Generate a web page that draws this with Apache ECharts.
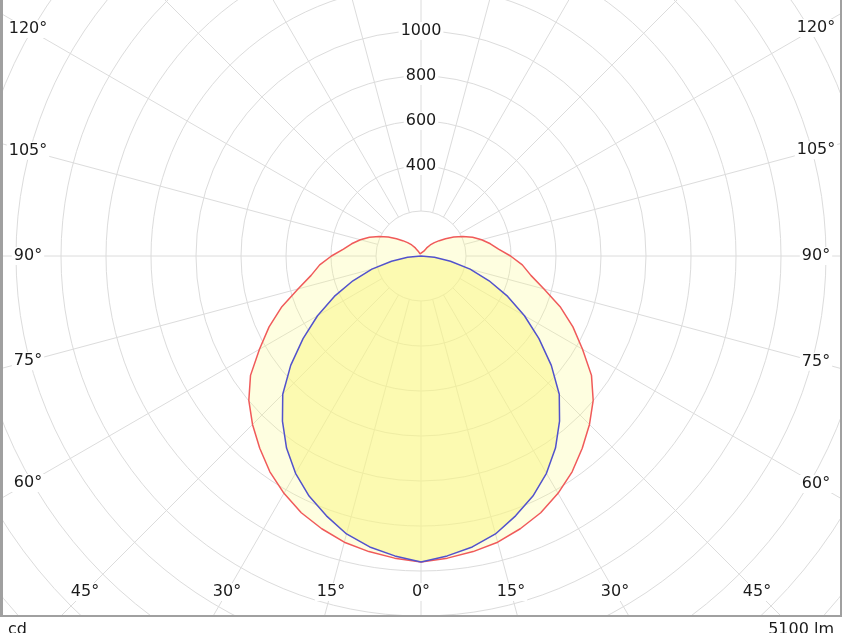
<!DOCTYPE html>
<html><head><meta charset="utf-8">
<script src="https://cdn.jsdelivr.net/npm/echarts@6/dist/echarts.min.js"></script>
<style>html,body{margin:0;padding:0;background:#fff}#c{width:844px;height:633px}</style>
</head><body><div id="c"></div>
<script>
// ---- data ----
const redAngles = [0,5,10,15,20,25,30,35,40,45,50,55,60,65,70,75,80,85,90,95,100,105,110,115,120,125,130,135,140,145,150,155,160,165,170,175,180];
const redValues = [1360,1348,1334,1317,1290,1259,1218,1171,1115,1059,999,925,829,745,658,566,496,452,398,346,313,279,244,205,168,133,106,84,64,44,25,10,3,0,0,0,0];
const blueAngles = [0,5,10,15,20,25,30,35,40,45,50,55,60,65,70,75,80,85,90];
const blueValues = [1360,1338,1313,1279,1229,1177,1115,1042,958,869,756,640,531,425,322,226,133,60,0];
const radiusLabelTicks = [400,600,800,1000];
const angleLabelTicks = [0,15,30,45,60,75,90,105,120];
const unitLabel = 'cd';
const fluxLabel = '5100 lm';

// ---- layout ----
const CX = 421, CY = 256;
const RMAX = 2600;
const PX_PER_CD = 0.225;
const R = RMAX * PX_PER_CD;
const R_INNER = 200 * PX_PER_CD;
const LABEL_LEFT = 28, LABEL_RIGHT = 816, LABEL_BOTTOM = 592;
const FONT = '"DejaVu Sans", Verdana, sans-serif';
const TEXT = '#1a1a1a';

function mirror(angles, values) {
  const out = [];
  for (let i = 0; i < angles.length; i++) out.push([values[i], angles[i]]);
  for (let i = angles.length - 1; i >= 0; i--) out.push([values[i], 360 - angles[i]]);
  return out;
}
function labelRadius(theta, side) {
  const th = theta * Math.PI / 180;
  const s = Math.sin(th), c = Math.cos(th);
  const horiz = side < 0 ? (CX - LABEL_LEFT) : (LABEL_RIGHT - CX);
  let t = Infinity;
  if (s > 1e-6) t = Math.min(t, horiz / s);
  if (c > 1e-6) t = Math.min(t, (LABEL_BOTTOM - CY) / c);
  return t / PX_PER_CD;
}
const angleLabelData = [];
angleLabelTicks.forEach(function (a) {
  angleLabelData.push({ value: [labelRadius(a, -1), a], name: a + '°' });
  if (a > 0) angleLabelData.push({ value: [labelRadius(a, 1), 360 - a], name: a + '°' });
});

const chart = echarts.init(document.getElementById('c'), null, { renderer: 'canvas' });
const gridColor = '#dcdcdc';
chart.setOption({
  animation: false,
  backgroundColor: '#ffffff',
  textStyle: { fontFamily: FONT },
  polar: [
    { center: [CX, CY], radius: [0, R] },
    { center: [CX, CY], radius: [R_INNER, R] }
  ],
  angleAxis: [
    { polarIndex: 0, type: 'value', min: 0, max: 360, startAngle: 270, clockwise: true, show: false },
    { polarIndex: 1, type: 'value', min: 0, max: 360, interval: 15, startAngle: 90, clockwise: true,
      axisLine: { show: false }, axisTick: { show: false }, axisLabel: { show: false },
      splitLine: { show: true, lineStyle: { color: gridColor, width: 1 } } }
  ],
  radiusAxis: [
    { polarIndex: 0, type: 'value', min: 0, max: RMAX, show: false },
    { polarIndex: 1, type: 'value', min: 200, max: RMAX, interval: 200,
      axisLine: { show: false }, axisTick: { show: false },
      splitLine: { show: true, lineStyle: { color: gridColor, width: 1 } },
      axisLabel: { show: true, showMinLabel: false, margin: 0, align: 'center', verticalAlign: 'middle',
        color: TEXT, fontSize: 16, fontFamily: FONT, backgroundColor: '#fff', padding: [1, 2],
        formatter: function (v) { return radiusLabelTicks.indexOf(v) >= 0 ? String(v) : ''; } } }
  ],
  series: [
    { type: 'line', coordinateSystem: 'polar', polarIndex: 0, data: mirror(redAngles, redValues),
      symbol: 'none', silent: true, z: 3,
      lineStyle: { color: '#f05a5a', width: 1.5 },
      areaStyle: { color: 'rgba(250,250,130,0.25)', opacity: 1 } },
    { type: 'line', coordinateSystem: 'polar', polarIndex: 0, data: mirror(blueAngles, blueValues),
      symbol: 'none', silent: true, z: 4,
      lineStyle: { color: '#5252cc', width: 1.5 },
      areaStyle: { color: 'rgba(250,245,130,0.5)', opacity: 1 } },
    { type: 'scatter', coordinateSystem: 'polar', polarIndex: 0, data: angleLabelData,
      symbol: 'circle', symbolSize: 1, silent: true, z: 10,
      itemStyle: { color: '#ffffff', opacity: 1 },
      label: { show: true, position: 'inside', formatter: '{b}', color: TEXT, fontSize: 16,
        fontFamily: FONT, backgroundColor: '#fff', padding: [1, 2], textBorderWidth: 0 } }
  ],
  graphic: [
    { type: 'rect', z: 50, shape: { x: 0, y: 617, width: 844, height: 16 }, style: { fill: '#fff' } },
    { type: 'rect', z: 50, shape: { x: 842, y: 0, width: 2, height: 633 }, style: { fill: '#fff' } },
    { type: 'rect', z: 51, shape: { x: 0, y: 0, width: 3, height: 617 }, style: { fill: '#a0a0a0' } },
    { type: 'rect', z: 51, shape: { x: 0, y: 615, width: 842, height: 2 }, style: { fill: '#a0a0a0' } },
    { type: 'rect', z: 51, shape: { x: 840, y: 0, width: 2, height: 617 }, style: { fill: '#a0a0a0' } },
    { type: 'text', z: 52, left: 8, top: 622, style: { text: unitLabel, fill: TEXT, font: '16px ' + FONT } },
    { type: 'text', z: 52, right: 10, top: 622, style: { text: fluxLabel, fill: TEXT, font: '16px ' + FONT } }
  ]
});
</script></body></html>
